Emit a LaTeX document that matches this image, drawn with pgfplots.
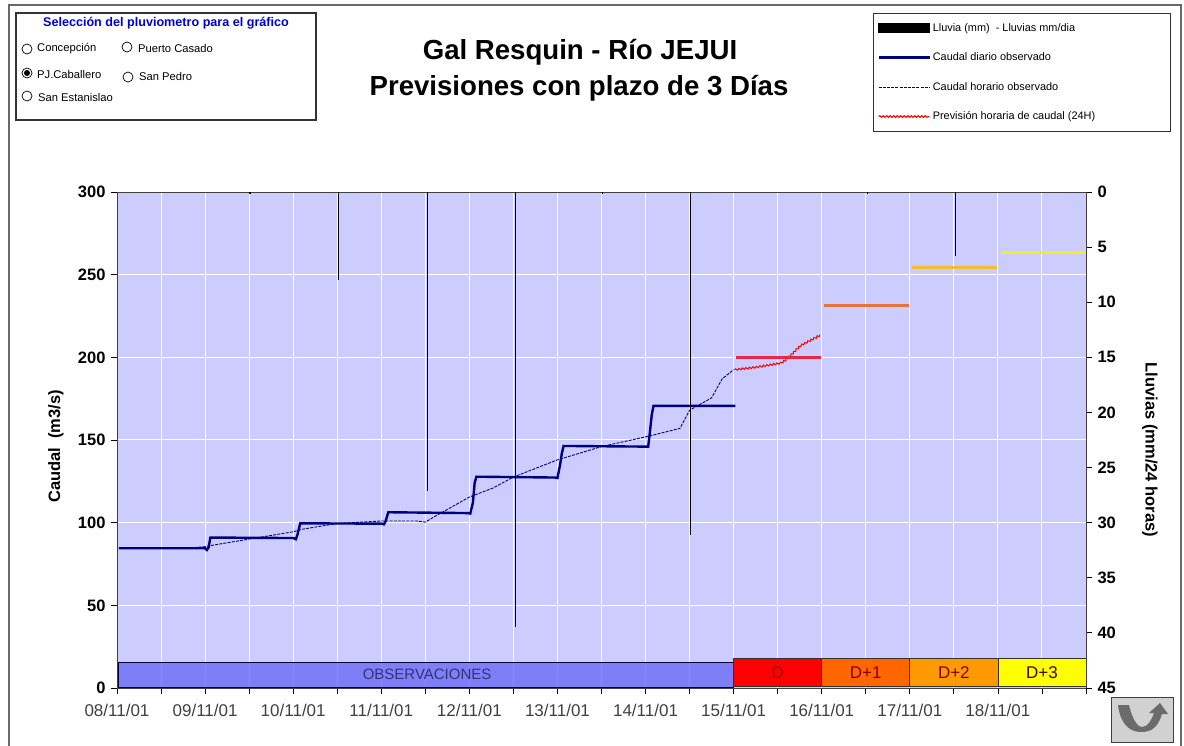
\documentclass[border=0pt]{standalone}
\usepackage{fontspec}
\usepackage{pgfplots}
\pgfplotsset{compat=1.18}
\usetikzlibrary{decorations.pathmorphing}
\setmainfont{Liberation Sans}
\definecolor{plotbg}{RGB}{204,204,255}
\definecolor{navy}{RGB}{0,0,128}
\definecolor{framegray}{RGB}{105,105,105}
\newcommand{\fs}[1]{\fontsize{#1}{#1}\selectfont}
\begin{document}
\begin{tikzpicture}
\useasboundingbox (0,0) rectangle (1184pt,745pt);
\begin{scope}[x=1pt,y=-1pt,yshift=745pt]
  % outer frame
  \draw[framegray,line width=2.5pt] (9,760) -- (9,5) -- (1181,5) -- (1181,760);
  % selector box
  \draw[black!80,line width=1.2pt] (16,13) rectangle (316,120);
  \node[font=\fs{12.6}\bfseries,text=blue!85!black] at (166,23) {Selección del pluviometro para el gráfico};
  \foreach \cx/\cy in {27/49,127/47,27/73,128/77,27/96}{\draw[black,line width=.7pt,fill=white] (\cx,\cy) circle (5);}
  \fill[black] (27,73) circle (3);
  \node[font=\fs{11.2},anchor=west,inner sep=0] at (37,49) {Concepción};
  \node[font=\fs{11.2},anchor=west,inner sep=0] at (138,49) {Puerto Casado};
  \node[font=\fs{11.2},anchor=west,inner sep=0] at (37,75) {PJ.Caballero};
  \node[font=\fs{11.2},anchor=west,inner sep=0] at (139,77) {San Pedro};
  \node[font=\fs{11.2},anchor=west,inner sep=0] at (38,98) {San Estanislao};
  % title
  \node[font=\fs{27.6}\bfseries,anchor=base] at (580,60) {Gal Resquin - Río JEJUI};
  \node[font=\fs{27.6}\bfseries,anchor=base] at (579,96) {Previsiones con plazo de 3 Días};
  % return button
  \draw[black!75,line width=1pt,fill=black!18] (1111,697) rectangle (1173,742);
  \fill[black!58] (1118,705) -- (1129,705) .. controls (1132,718) and (1137,727) .. (1142,727) .. controls (1148,727) and (1152,719) .. (1154,713) -- (1149,713) -- (1160,703) -- (1168,714) -- (1162,714) .. controls (1158,727) and (1152,732) .. (1141,732) .. controls (1128,732) and (1120,722) .. (1118,705) -- cycle;
\end{scope}

% ---- left axis: flows, grid, bands, legend
\begin{axis}[
  at={(117pt,57pt)},anchor=south west,
  width=969pt,height=496pt,scale only axis,
  xmin=0,xmax=11,ymin=0,ymax=300,
  axis background/.style={fill=plotbg},
  axis line style={black!75,line width=.9pt},
  xtick={0,...,11},
  xticklabels={08/11/01,09/11/01,10/11/01,11/11/01,12/11/01,13/11/01,14/11/01,15/11/01,16/11/01,17/11/01,18/11/01,{}},
  minor xtick={0.5,1.5,...,10.5},
  ytick={0,50,...,300},
  xtick pos=bottom,ytick pos=left,
  tick align=outside,
  major tick length=6pt,minor tick length=6pt,
  tick style={black,line width=.8pt},
  grid=both,
  major grid style={white,line width=1pt},
  minor grid style={white,line width=1pt},
  x tick label style={font=\fs{17},text=black!75,yshift=-7pt},
  y tick label style={font=\fs{16.5}\bfseries,/pgf/number format/assume math mode=true,xshift=-2pt},
  ylabel={Caudal\ \ (m3/s)},
  y label style={at={(axis description cs:-0.063,0.487)},anchor=center,font=\fs{16.5}\bfseries},
  legend cell align=left,
  legend image code/.code={\draw[#1] (0pt,0pt) -- (51pt,0pt);},
  legend style={at={(rel axis cs:0.780,1.361)},anchor=north west,draw=black!80,line width=1.2pt,
    font=\fs{10.9},fill=white,inner xsep=4pt,inner ysep=8pt,row sep=16pt,
    nodes={line width=.4pt}},
]
% legend-only entry: rain lives on the right axis
\addlegendimage{legend image code/.code={\fill[black] (0,-4.5pt) rectangle (51pt,4.5pt);}}
\addlegendentry{\makebox[232pt][l]{Lluvia (mm)\ \ - Lluvias mm/dia}}

% observation band
\addplot[draw=black!80!blue,fill={rgb,255:red,100;green,100;blue,245},fill opacity=.75,line width=.8pt,forget plot]
  coordinates {(0.02,0.6)(7,0.6)(7,15.4)(0.02,15.4)} --cycle;
\addplot[draw=black!80,fill={rgb,255:red,255;green,0;blue,0},line width=.8pt,forget plot]
  coordinates {(7,1.2)(8,1.2)(8,18)(7,18)} --cycle;
\addplot[draw=black!80,fill={rgb,255:red,255;green,102;blue,0},line width=.8pt,forget plot]
  coordinates {(8,1.2)(9,1.2)(9,18)(8,18)} --cycle;
\addplot[draw=black!80,fill={rgb,255:red,255;green,153;blue,0},line width=.8pt,forget plot]
  coordinates {(9,1.2)(10,1.2)(10,18)(9,18)} --cycle;
\addplot[draw=black!80,fill={rgb,255:red,255;green,255;blue,0},line width=.8pt,forget plot]
  coordinates {(10,1.2)(11,1.2)(11,18)(10,18)} --cycle;
\node[font=\fs{15},text={rgb,255:red,50;green,50;blue,120}] at (axis cs:3.52,8) {OBSERVACIONES};
\node[font=\fs{17},text=red!60!black] at (axis cs:7.5,9.5) {D};
\node[font=\fs{17},text=red!50!black] at (axis cs:8.5,9.5) {D+1};
\node[font=\fs{17},text=red!50!black] at (axis cs:9.5,9.5) {D+2};
\node[font=\fs{17},text=red!30!black] at (axis cs:10.5,9.5) {D+3};

% daily observed
\addplot[navy,line width=2.4pt] coordinates {
 (0.02,84.5)(1.0,84.5)(1.02,83.5)(1.04,85)(1.06,91)
 (2.0,90.7)(2.03,90)(2.05,93)(2.08,99.6)
 (3.0,99.4)(3.03,99)(3.05,101)(3.08,106.3)
 (3.98,105.8)(4.01,105.5)(4.04,112)(4.06,124)(4.08,127.8)
 (4.97,127.3)(5.0,127)(5.03,135)(5.05,142)(5.07,146.4)
 (6.0,146)(6.03,146)(6.05,155)(6.07,165)(6.09,170.6)(7.02,170.6)};
\addlegendentry{Caudal diario observado}

% hourly observed
\addplot[navy,line width=.9pt,dash pattern=on 3pt off 1.2pt] coordinates {
 (0.02,84.5)(0.9,85)(1.0,85.5)(1.1,86.5)(2.0,94.5)(2.1,96)(2.5,99.5)(3.0,101)(3.4,101)(3.5,100.3)
 (3.6,103.5)(3.75,108)(4.0,115.5)(4.27,121)(4.5,127.6)(5.0,138)(5.5,146)(6.05,152.5)(6.39,157)
 (6.44,162)(6.5,168)(6.75,175.5)(6.87,187)(7,192.5)};
\addlegendentry{Caudal horario observado}

% hourly forecast
\addplot[red,line width=1pt,decorate,decoration={snake,amplitude=.9pt,segment length=3.5pt}] coordinates {
 (7.01,192.5)(7.25,194)(7.53,196.5)(7.58,198)(7.75,207)(7.98,213.5)};
\addlegendentry{Previsión horaria de caudal (24H)}

% daily forecast levels
\addplot[color={rgb,255:red,232;green,40;blue,70},line width=2.6pt,forget plot] coordinates {(7.03,200)(7.99,200)};
\addplot[color={rgb,255:red,232;green,115;blue,60},line width=2.6pt,forget plot] coordinates {(8.03,231.5)(8.99,231.5)};
\addplot[color={rgb,255:red,245;green,190;blue,50},line width=2.6pt,forget plot] coordinates {(9.03,254.5)(9.99,254.5)};
\addplot[color={rgb,255:red,240;green,240;blue,30},line width=2.6pt,forget plot] coordinates {(10.03,263.4)(11,263.4)};
\end{axis}

% ---- right axis: rain, reversed
\begin{axis}[
  at={(117pt,57pt)},anchor=south west,
  width=969pt,height=496pt,scale only axis,
  xmin=0,xmax=11,ymin=0,ymax=45,y dir=reverse,
  hide x axis,
  axis y line*=right,
  axis line style={black!75,line width=.9pt},
  ytick={0,5,...,45},
  tick align=outside,
  major tick length=6pt,
  tick style={black,line width=.8pt},
  y tick label style={font=\fs{16.5}\bfseries,/pgf/number format/assume math mode=true,xshift=2pt},
  ylabel={Lluvias (mm/24 horas)},
  y label style={at={(axis description cs:1.066,0.48)},anchor=center,rotate=180,font=\fs{16.5}\bfseries},
]
\addplot[ycomb,black,line width=1.1pt,forget plot] coordinates {
 (1.51,0.2)(2.51,8)(3.525,27.1)(4.525,39.5)(5.51,0.2)(6.515,31.1)(8.515,0.2)(9.515,5.8)};
\end{axis}
\end{tikzpicture}
\end{document}
